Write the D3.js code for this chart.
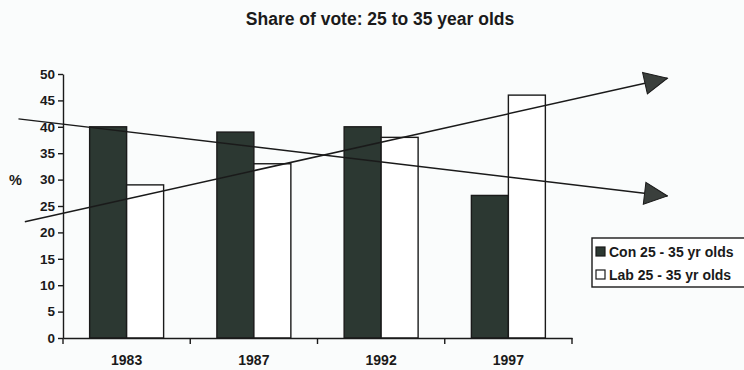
<!DOCTYPE html>
<html>
<head>
<meta charset="utf-8">
<style>
  body { margin: 0; background: #fafcfc; }
  svg { display: block; font-family: "Liberation Sans", Arial, sans-serif; }
</style>
</head>
<body>
<svg class="chart" width="744" height="370"></svg>

<script src="https://d3js.org/d3.v7.min.js"></script>
<script>
  const years = ["1983", "1987", "1992", "1997"];
  const seriesNames = ["Con 25 - 35 yr olds", "Lab 25 - 35 yr olds"];
  const conValues = [40, 39, 40, 27];
  const labValues = [29, 33, 38, 46];
  const yTicks = [0, 5, 10, 15, 20, 25, 30, 35, 40, 45, 50];
  // hand drawn trend arrows: [category index, %] start and tip
  const conTrend = [[-0.85, 41.5], [4.25, 26.9]];
  const labTrend = [[-0.8, 22.0], [4.25, 49.2]];

  const width = 744;
  const height = 370;
  const dark = "#2c3832";
  const ink = "#1a1a1a";

  const svg = d3.select("svg");

  const x0 = d3.scaleBand().domain(years).range([63, 572]);
  const x1 = d3.scaleBand().domain(seriesNames).range([0, x0.bandwidth()]).paddingOuter(0.72);
  const xi = d3.scaleLinear().domain([0, 3])
    .range([x0(years[0]) + x0.bandwidth() / 2, x0(years[3]) + x0.bandwidth() / 2]);
  const y = d3.scaleLinear().domain([0, 50]).range([338, 74]);

  const rows = years.map((yr, i) => ({ year: yr, vals: [conValues[i], labValues[i]] }));

  // title
  svg.append("text")
    .attr("x", 380).attr("y", 25)
    .attr("text-anchor", "middle")
    .attr("font-weight", "bold").attr("font-size", 17.5)
    .attr("fill", ink)
    .text("Share of vote: 25 to 35 year olds");

  // bars
  const groups = svg.append("g").selectAll("g")
    .data(rows)
    .join("g")
    .attr("transform", d => `translate(${x0(d.year)},0)`);

  groups.selectAll("rect")
    .data(d => d.vals.map((v, i) => ({ key: seriesNames[i], v: v, i: i })))
    .join("rect")
    .attr("x", d => x1(d.key))
    .attr("y", d => y(d.v))
    .attr("width", x1.bandwidth())
    .attr("height", d => y(0) - y(d.v))
    .attr("fill", d => d.i === 0 ? dark : "#ffffff")
    .attr("stroke", ink)
    .attr("stroke-width", 1.4);

  // axes
  const yAxis = svg.append("g")
    .attr("transform", "translate(63,0)")
    .call(d3.axisLeft(y).tickValues(yTicks).tickSize(5).tickSizeOuter(0).tickPadding(3));

  const xAxis = svg.append("g")
    .attr("transform", "translate(0,338)")
    .call(d3.axisBottom(x0).tickSize(0).tickPadding(17));

  // ticks between categories
  xAxis.selectAll(".sep")
    .data(d3.range(years.length + 1))
    .join("line")
    .attr("class", "sep")
    .attr("x1", i => x0.range()[0] + i * x0.step())
    .attr("x2", i => x0.range()[0] + i * x0.step())
    .attr("y1", 0).attr("y2", 6)
    .attr("stroke", ink).attr("stroke-width", 1.4);

  [yAxis, xAxis].forEach(a => {
    a.select(".domain").attr("stroke", ink).attr("stroke-width", 1.4);
    a.selectAll(".tick line").attr("stroke", ink).attr("stroke-width", 1.4);
    a.selectAll("text")
      .attr("font-family", "'Liberation Sans', Arial, sans-serif")
      .attr("font-weight", "bold")
      .attr("fill", ink);
  });
  yAxis.selectAll("text").attr("font-size", 13.5);
  xAxis.selectAll("text").attr("font-size", 14);

  svg.append("text")
    .attr("x", 9).attr("y", 185)
    .attr("font-weight", "bold").attr("font-size", 14.5)
    .attr("fill", ink)
    .text("%");

  // trend arrows
  svg.append("defs").append("marker")
    .attr("id", "head")
    .attr("markerUnits", "userSpaceOnUse")
    .attr("viewBox", "0 0 25 24")
    .attr("refX", 24).attr("refY", 12)
    .attr("markerWidth", 25).attr("markerHeight", 24)
    .attr("orient", "auto")
    .append("path")
    .attr("d", "M1,1 L24,12 L1,23 Z")
    .attr("fill", "#3a3f3c")
    .attr("stroke", ink).attr("stroke-width", 1);

  const line = d3.line().x(d => xi(d[0])).y(d => y(d[1]));

  svg.append("g").selectAll("path")
    .data([conTrend, labTrend])
    .join("path")
    .attr("d", line)
    .attr("fill", "none")
    .attr("stroke", ink)
    .attr("stroke-width", 1.5)
    .attr("marker-end", "url(#head)");

  // legend
  const legend = svg.append("g").attr("transform", "translate(592,238)");
  legend.append("rect")
    .attr("width", 160).attr("height", 49)
    .attr("fill", "#ffffff")
    .attr("stroke", ink).attr("stroke-width", 1.4);

  const items = legend.selectAll("g")
    .data(seriesNames)
    .join("g")
    .attr("transform", (d, i) => `translate(4,${9 + i * 23})`);

  items.append("rect")
    .attr("width", 9).attr("height", 9)
    .attr("fill", (d, i) => i === 0 ? dark : "#ffffff")
    .attr("stroke", ink).attr("stroke-width", 1.2);

  items.append("text")
    .attr("x", 13).attr("y", 10)
    .attr("font-weight", "bold").attr("font-size", 14)
    .attr("fill", ink)
    .text(d => d);
</script>
</body>
</html>
